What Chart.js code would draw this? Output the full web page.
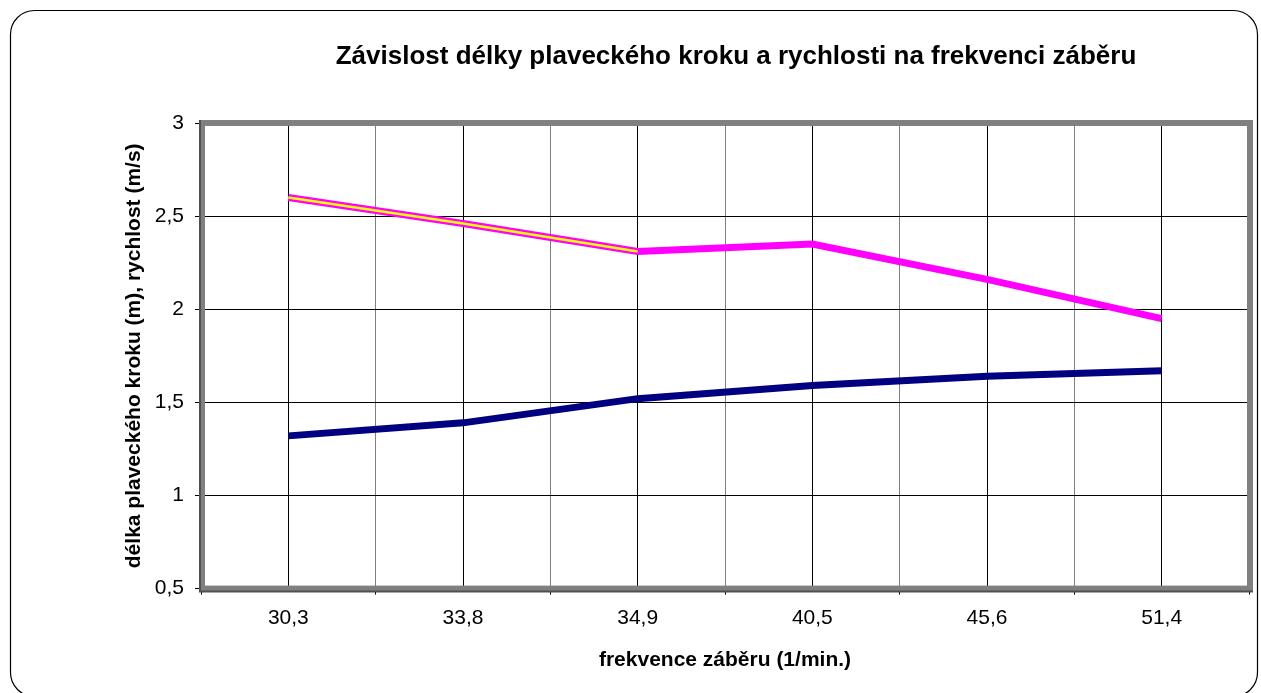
<!DOCTYPE html>
<html>
<head>
<meta charset="utf-8">
<script src="https://cdn.jsdelivr.net/npm/chart.js@4/dist/chart.umd.min.js"></script>
<style>
  html, body { margin: 0; padding: 0; background: #fff; }
  #wrap { width: 1261px; height: 693px; }
</style>
</head>
<body>
<div id="wrap"><canvas id="chart" width="1261" height="693"></canvas></div>
<script>
// Data
const categories = ['30,3', '33,8', '34,9', '40,5', '45,6', '51,4'];
const strokeLength = [2.6, 2.46, 2.31, 2.35, 2.16, 1.95];   // pink
const strokeInner = [2.6, 2.46, 2.31, null, null, null];   // yellow core
const speed = [1.32, 1.39, 1.52, 1.59, 1.64, 1.67];         // navy
const yTicks = [0.5, 1, 1.5, 2, 2.5, 3];

const FONT = '"Liberation Sans", Arial, sans-serif';
const TITLE = 'Závislost délky plaveckého kroku a rychlosti na frekvenci záběru';

const toPoints = (arr) => arr.map((v, i) => ({ x: i, y: v }));
const isCenter = (ctx) => ctx.tick && Number.isInteger(ctx.tick.value);

// Outer rounded frame + chart title
const framePlugin = {
  id: 'frame',
  beforeDraw(chart) {
    const { ctx, chartArea } = chart;
    ctx.save();
    ctx.fillStyle = '#fff';
    ctx.fillRect(0, 0, chart.width, chart.height);
    ctx.strokeStyle = '#000';
    ctx.lineWidth = 1.2;
    ctx.beginPath();
    ctx.roundRect(10.5, 10.5, 1247, 686, 24);
    ctx.stroke();
    ctx.fillStyle = '#000';
    ctx.font = 'bold 26px ' + FONT;
    ctx.textAlign = 'center';
    ctx.textBaseline = 'middle';
    ctx.fillText(TITLE, (chartArea.left + chartArea.right) / 2 + 11, 57);
    ctx.restore();
  },
  beforeDatasetsDraw(chart) {
    const { ctx, chartArea: a } = chart;
    ctx.save();
    ctx.strokeStyle = '#808080';
    ctx.lineWidth = 6;
    ctx.strokeRect(a.left + 1, a.top, a.right - a.left, a.bottom - a.top);
    ctx.strokeStyle = '#505050';
    ctx.lineWidth = 2;
    ctx.beginPath();
    ctx.moveTo(a.left - 1, a.top - 3);
    ctx.lineTo(a.left - 1, a.bottom + 3);
    ctx.lineTo(a.right + 4, a.bottom + 3);
    ctx.stroke();
    ctx.restore();
  }
};

const lineStyle = { pointRadius: 0, tension: 0, borderCapStyle: 'butt', borderJoinStyle: 'miter', fill: false };

new Chart(document.getElementById('chart'), {
  type: 'line',
  data: {
    datasets: [
      { label: 'rychlost', data: toPoints(speed), borderColor: '#000080', borderWidth: 7, order: 2, ...lineStyle },
      { label: 'délka kroku', data: toPoints(strokeLength), borderColor: '#ff00ff', borderWidth: 7, order: 1, ...lineStyle },
      { label: 'délka kroku 2', data: toPoints(strokeInner), borderColor: '#ffff00', borderWidth: 2.5, order: 0, spanGaps: false, ...lineStyle }
    ]
  },
  options: {
    responsive: false,
    animation: false,
    layout: { padding: { left: 99, right: 12, top: 123, bottom: 7 } },
    plugins: { legend: { display: false }, tooltip: { enabled: false } },
    scales: {
      x: {
        type: 'linear',
        min: -0.5,
        max: categories.length - 0.5,
        afterBuildTicks(scale) {
          const t = [];
          for (let i = 0; i <= categories.length * 2; i++) t.push({ value: -0.5 + i * 0.5 });
          scale.ticks = t;
        },
        ticks: {
          autoSkip: false,
          maxRotation: 0,
          padding: 11,
          color: '#000',
          font: { family: FONT, size: 21 },
          callback: (v) => Number.isInteger(v) ? categories[v] : ''
        },
        grid: {
          color: (ctx) => isCenter(ctx) ? '#000' : '#808080',
          tickColor: (ctx) => isCenter(ctx) ? 'rgba(0,0,0,0)' : '#000',
          tickLength: 6,
          lineWidth: 1
        },
        border: { display: false },
        title: {
          display: true,
          text: 'frekvence záběru (1/min.)',
          color: '#000',
          font: { family: FONT, size: 21, weight: 'bold' },
          padding: { top: 6, bottom: 13 }
        }
      },
      y: {
        min: 0.5,
        max: 3,
        afterBuildTicks(scale) {
          scale.ticks = yTicks.map(v => ({ value: v }));
        },
        afterFit(scale) {
          scale.width = 102;
        },
        ticks: {
          padding: 11,
          color: '#000',
          font: { family: FONT, size: 21 },
          callback: (v) => String(v).replace('.', ',')
        },
        grid: { color: '#000', tickColor: '#000', tickLength: 6, lineWidth: 1 },
        border: { display: false },
        title: {
          display: true,
          text: 'délka plaveckého kroku (m), rychlost (m/s)',
          color: '#000',
          font: { family: FONT, size: 21, weight: 'bold' },
          padding: { top: 23, bottom: 0 }
        }
      }
    }
  },
  plugins: [framePlugin]
});
</script>
</body>
</html>
